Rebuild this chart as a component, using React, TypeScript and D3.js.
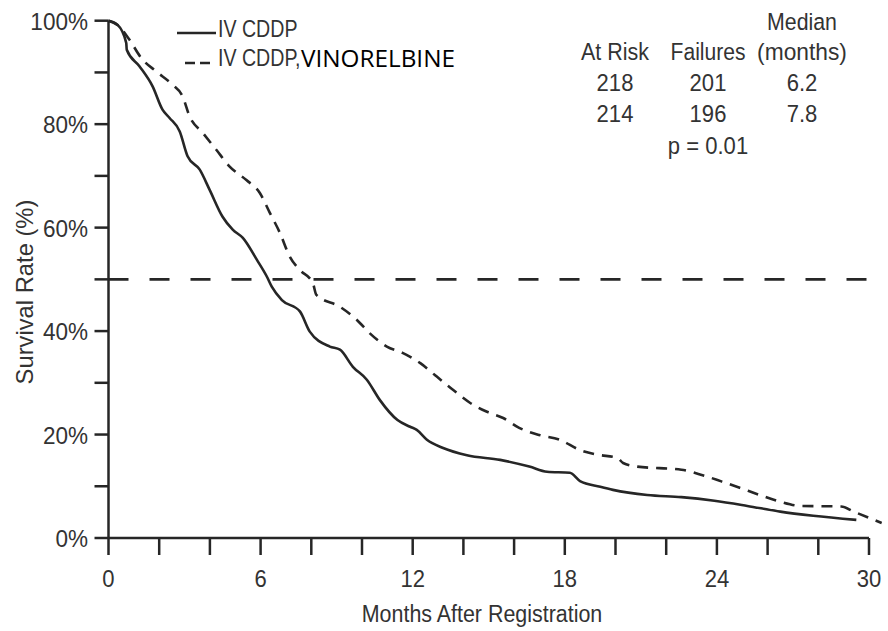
import React from "react";
import * as d3 from "d3";

// IV CDDP arm (solid)
const cddpMonths = [0, 0.36, 0.7, 0.72, 1.22, 1.74, 2.13, 2.41, 2.81, 3.12, 3.6, 3.99, 4.5, 4.9, 5.3, 5.85, 6.25, 6.44, 6.84, 7.55, 7.94, 8.73, 9.13, 9.64, 10.19, 10.7, 11.4, 11.9, 12.16, 12.56, 13.2, 14.14, 15.45, 16.6, 17.3, 18.2, 18.6, 19.4, 19.9, 21.25, 22.6, 23.9, 25.2, 26.5, 27.8, 29.5];
const cddpSurvival = [100, 99.2, 95.7, 94.4, 91.2, 87.3, 82.8, 81.2, 78.6, 73.8, 71.2, 67.3, 62.1, 59.6, 58, 53.8, 50.5, 48.6, 46, 43.8, 39.9, 37, 36.4, 33.1, 30.6, 26.7, 22.8, 21.5, 20.9, 19, 17.4, 16, 15.1, 13.8, 12.8, 12.6, 11, 9.9, 9.3, 8.3, 7.9, 7.2, 6.2, 5.1, 4.3, 3.5];

// IV CDDP + vinorelbine arm (dashed)
const vinoMonths = [0, 0.4, 0.83, 1.29, 1.88, 2.53, 2.92, 3.2, 3.72, 4.26, 4.78, 5.44, 5.97, 6.36, 6.76, 7.15, 7.55, 8.06, 8.2, 9.13, 9.79, 10.3, 10.98, 11.6, 12.3, 12.95, 13.6, 14.27, 14.93, 15.57, 16.2, 17, 17.8, 18.6, 19.3, 20.07, 20.3, 20.86, 22.6, 23.4, 24.2, 24.9, 25.7, 26.5, 27.3, 28.9, 29.4, 30.5];
const vinoSurvival = [100, 99, 96.3, 92.8, 90.2, 87.6, 85.4, 81.5, 78.3, 75, 71.8, 69.2, 66.7, 62.9, 59, 54.4, 51.8, 49.3, 47, 44.7, 42.2, 39.6, 37, 35.8, 33.8, 31.2, 28.6, 26.1, 24.4, 23.2, 21.3, 19.9, 19, 17, 16.1, 15.5, 14.5, 13.8, 13.2, 12.2, 10.9, 9.7, 8.3, 7, 6.2, 6.1, 5.1, 2.9];

const xLabelTicks = [0, 6, 12, 18, 24, 30];
const xMinorTicks = d3.range(0, 31, 2);
const yLabelTicks = [0, 20, 40, 60, 80, 100];
const yMinorTicks = d3.range(0, 101, 10);
const medianLine = 50;

const tableHeader = ["At Risk", "Failures", "(months)"];
const tableRows = [
  ["218", "201", "6.2"],
  ["214", "196", "7.8"],
];
const pValue = "p = 0.01";

const W = 888;
const H = 631;
const font = "'Liberation Sans', Arial, sans-serif";
const ink = "#262626";
const txt = "#333";
const fs = 24.5;

// the original type is a condensed grotesque, so squeeze Liberation Sans sideways
const T = ({ x, y, anchor = "start", sx = 0.88, size = fs, rotate = 0, fill = txt, family = font, children }: any) => (
  <text
    transform={`translate(${x},${y}) rotate(${rotate}) scale(${sx},1)`}
    textAnchor={anchor}
    fontSize={size}
    fill={fill}
    fontFamily={family}
  >
    {children}
  </text>
);

export default function App() {
  const x = d3.scaleLinear().domain([0, 30]).range([108.5, 869]);
  const y = d3.scaleLinear().domain([0, 100]).range([538, 20.7]);

  const line = d3
    .line<[number, number]>()
    .curve(d3.curveMonotoneX)
    .x((d) => x(d[0]))
    .y((d) => y(d[1]));

  const cddp = line(cddpMonths.map((m, i) => [m, cddpSurvival[i]]) as [number, number][]);
  const vino = line(vinoMonths.map((m, i) => [m, vinoSurvival[i]]) as [number, number][]);

  const colX = [615, 708, 802];

  return (
    <svg width={W} height={H} style={{ position: "absolute", left: 0, top: 0, background: "#fff" }}>
      {/* reference line at 50% */}
      <line
        x1={x(0)}
        x2={x(30.3)}
        y1={y(medianLine)}
        y2={y(medianLine)}
        stroke={ink}
        strokeWidth={2.6}
        strokeDasharray="20,21"
      />

      {/* axes */}
      <line x1={x(0)} x2={x(0)} y1={y(100)} y2={y(0)} stroke={ink} strokeWidth={2.5} />
      <line x1={x(0)} x2={x(30)} y1={y(0)} y2={y(0)} stroke={ink} strokeWidth={2.5} />
      {yMinorTicks.map((t) => (
        <line key={"yt" + t} x1={x(0) - 14} x2={x(0)} y1={y(t)} y2={y(t)} stroke={ink} strokeWidth={2.5} />
      ))}
      {xMinorTicks.map((t) => (
        <line key={"xt" + t} x1={x(t)} x2={x(t)} y1={y(0)} y2={y(0) + 17} stroke={ink} strokeWidth={2.5} />
      ))}
      {yLabelTicks.map((t) => (
        <T key={"yl" + t} x={88} y={y(t) + 9} anchor="end" sx={0.92}>
          {t}%
        </T>
      ))}
      {xLabelTicks.map((t) => (
        <T key={"xl" + t} x={x(t)} y={587} anchor="middle" sx={0.9}>
          {t}
        </T>
      ))}
      <T x={482} y={622} anchor="middle" sx={0.875}>
        Months After Registration
      </T>
      <T x={33} y={292} anchor="middle" rotate={-90} sx={0.97}>
        Survival Rate (%)
      </T>

      {/* survival curves */}
      <path d={cddp ?? ""} fill="none" stroke={ink} strokeWidth={2.6} />
      <path d={vino ?? ""} fill="none" stroke={ink} strokeWidth={2.6} strokeDasharray="11,8" />

      {/* legend */}
      <line x1={177} x2={216} y1={33} y2={33} stroke={ink} strokeWidth={2.6} />
      <T x={218} y={37} sx={0.8}>
        IV CDDP
      </T>
      <line x1={185} x2={214} y1={63} y2={63} stroke={ink} strokeWidth={2.6} strokeDasharray="10,5" />
      <T x={218} y={66} sx={0.8}>
        IV CDDP,
      </T>
      <T x={301} y={67} sx={1} size={24.3} fill="#000" family="'Open Sans', sans-serif">
        VINORELBINE
      </T>

      {/* summary table */}
      <T x={colX[2]} y={30} anchor="middle" sx={0.87}>
        Median
      </T>
      {tableHeader.map((h, i) => (
        <T key={"h" + i} x={colX[i]} y={60} anchor="middle" sx={[0.876, 0.86, 0.93][i]}>
          {h}
        </T>
      ))}
      {tableRows.map((row, r) =>
        row.map((v, i) => (
          <T key={"r" + r + i} x={colX[i]} y={91 + r * 31} anchor="middle" sx={0.9}>
            {v}
          </T>
        ))
      )}
      <T x={colX[1]} y={154} anchor="middle" sx={0.9}>
        {pValue}
      </T>
    </svg>
  );
}
